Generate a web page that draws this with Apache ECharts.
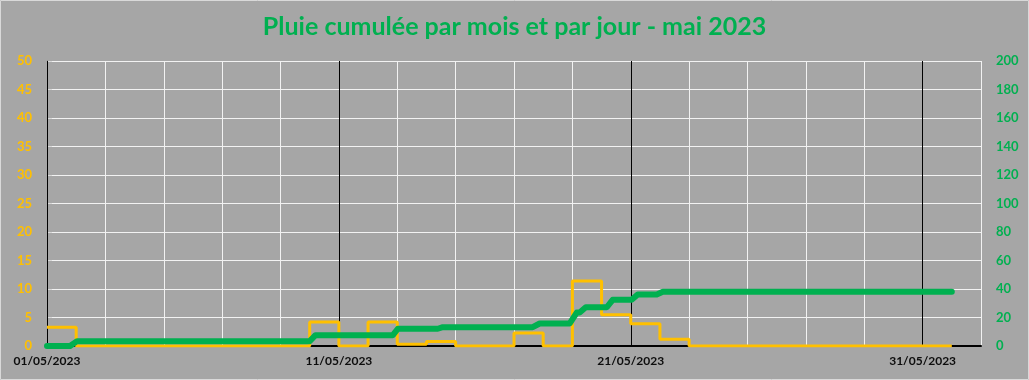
<!DOCTYPE html>
<html><head><meta charset="utf-8">
<script src="https://cdn.jsdelivr.net/npm/echarts@6/dist/echarts.min.js"></script>
<style>html,body{margin:0;padding:0;background:#A6A6A6}#c{width:1029px;height:380px}</style>
</head><body><div id="c"></div>
<script>
const chartTitle = 'Pluie cumulée par mois et par jour - mai 2023';

// Daily rain (mm), one value per day of May 2023 (day 1 .. 31)
const dailyRain = [3.3, 0, 0, 0, 0, 0, 0, 0, 0, 4.2,
                   0, 4.2, 0.3, 0.8, 0, 0, 2.3, 0, 11.4, 5.5,
                   3.9, 1.2, 0, 0, 0, 0, 0, 0, 0, 0, 0];

// Cumulative rain (mm): time in days since 01/05/2023 00:00, value
const cumulTime  = [0, 0.79, 1.03, 9.0, 9.2, 11.85, 12.02, 13.39, 13.56, 16.64, 16.88,
                    17.91, 18.15, 18.25, 18.46, 19.18, 19.38, 20.03, 20.24, 20.89, 21.10, 31.0];
const cumulValue = [0, 0, 3.4, 3.4, 7.6, 7.6, 12.1, 12.1, 13.2, 13.2, 15.8,
                    15.8, 23.5, 23.5, 27.2, 27.2, 32.4, 32.4, 36.1, 36.1, 38.0, 38.0];

// X tick labels (days since 01/05/2023) and their text
const xTickValues = [0, 10, 20, 30];
const xTickLabels = ['01/05/2023', '11/05/2023', '21/05/2023', '31/05/2023'];

const yellowData = dailyRain.map((v, i) => [i, v]);
yellowData.push([dailyRain.length, dailyRain[dailyRain.length - 1]]);
const greenData = cumulTime.map((t, i) => [t, cumulValue[i]]);

const chart = echarts.init(document.getElementById('c'), null, {renderer: 'canvas'});
const F = 'Lato';
chart.setOption({
  backgroundColor: '#A6A6A6',
  animation: false,
  title: {
    text: chartTitle, left: 'center', top: 9,
    textStyle: {color: '#00B050', fontSize: 25, fontWeight: 'bold', fontFamily: F}
  },
  graphic: [{
    type: 'rect', silent: true,
    shape: {x: 0.5, y: 0.5, width: 1028, height: 379},
    style: {fill: 'none', stroke: '#D9D9D9', lineWidth: 1}
  }],
  grid: {left: 47, right: 48, top: 61, bottom: 34},
  xAxis: [
    {type: 'value', position: 'bottom', min: 0, max: 32, interval: 2,
     axisLine: {show: false}, axisTick: {show: false}, axisLabel: {show: false},
     splitLine: {show: true, lineStyle: {color: '#F2F2F2', width: 1}}},
    {type: 'value', position: 'bottom', min: 0, max: 32, interval: 10, z: 1,
     axisLine: {show: true, lineStyle: {color: '#000', width: 2}},
     axisTick: {show: false},
     axisLabel: {show: true, margin: 9, showMaxLabel: false, color: '#0D0D0D',
       fontFamily: F, fontWeight: 'bold', fontSize: 12,
       formatter: v => { const i = xTickValues.indexOf(v); return i >= 0 ? xTickLabels[i] : ''; }},
     splitLine: {show: true, showMaxLine: false, lineStyle: {color: '#000', width: 1}}}
  ],
  yAxis: [
    {type: 'value', position: 'left', min: 0, max: 50, interval: 5,
     axisLine: {show: true, lineStyle: {color: '#000', width: 1}},
     axisTick: {show: false},
     axisLabel: {color: '#FFC000', fontFamily: F, fontWeight: 'bold', fontSize: 13, margin: 15},
     splitLine: {show: true, lineStyle: {color: '#F2F2F2', width: 1}}},
    {type: 'value', position: 'right', min: 0, max: 200, interval: 20,
     axisLine: {show: true, lineStyle: {color: '#D9D9D9', width: 1}},
     axisTick: {show: true, inside: false, length: 5, lineStyle: {color: '#D9D9D9'}},
     axisLabel: {color: '#00B050', fontFamily: F, fontWeight: 'bold', fontSize: 13, margin: 15},
     splitLine: {show: false}}
  ],
  series: [
    {name: 'Pluie journalière', type: 'line', step: 'end', xAxisIndex: 1, yAxisIndex: 0,
     data: yellowData, symbol: 'none', z: 2,
     lineStyle: {color: '#FFC000', width: 3}},
    {name: 'Pluie cumulée', type: 'line', xAxisIndex: 1, yAxisIndex: 1,
     data: greenData, symbol: 'none', z: 3,
     lineStyle: {color: '#00B050', width: 6, cap: 'round', join: 'round'}}
  ]
});
</script></body></html>
